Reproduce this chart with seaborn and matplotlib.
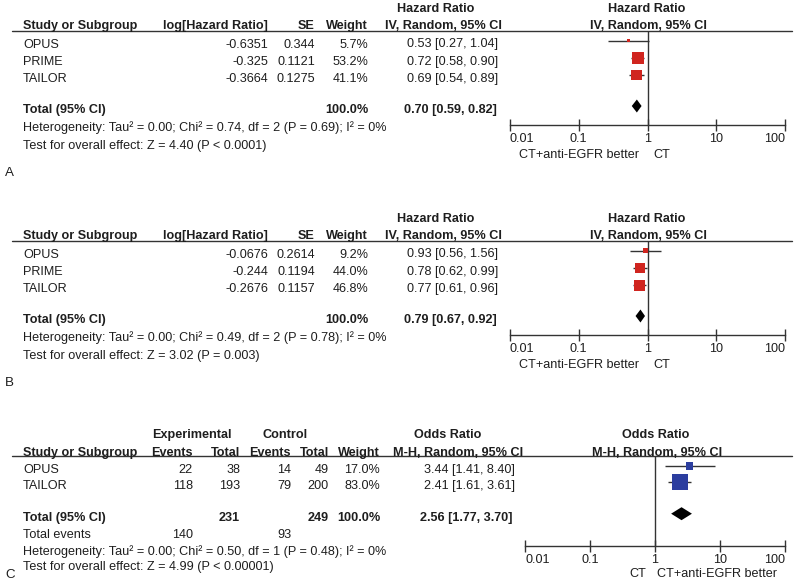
import numpy as np
import pandas as pd
import matplotlib.pyplot as plt
import matplotlib.ticker as mticker
import seaborn as sns

sns.set_theme(style="white")
plt.rcParams['font.family'] = ['Liberation Sans', 'DejaVu Sans']

# ---- data ----
# panel A: overall survival (hazard ratio)
a_studies = ["OPUS", "PRIME", "TAILOR"]
a_loghr = [-0.6351, -0.325, -0.3664]
a_se = [0.344, 0.1121, 0.1275]
a_weight = [5.7, 53.2, 41.1]
a_hr = [0.53, 0.72, 0.69]
a_lo = [0.27, 0.58, 0.54]
a_hi = [1.04, 0.90, 0.89]
a_total = [0.70, 0.59, 0.82]
a_het = "Heterogeneity: Tau² = 0.00; Chi² = 0.74, df = 2 (P = 0.69); I² = 0%"
a_test = "Test for overall effect: Z = 4.40 (P < 0.0001)"

# panel B: progression-free survival (hazard ratio)
b_studies = ["OPUS", "PRIME", "TAILOR"]
b_loghr = [-0.0676, -0.244, -0.2676]
b_se = [0.2614, 0.1194, 0.1157]
b_weight = [9.2, 44.0, 46.8]
b_hr = [0.93, 0.78, 0.77]
b_lo = [0.56, 0.62, 0.61]
b_hi = [1.56, 0.99, 0.96]
b_total = [0.79, 0.67, 0.92]
b_het = "Heterogeneity: Tau² = 0.00; Chi² = 0.49, df = 2 (P = 0.78); I² = 0%"
b_test = "Test for overall effect: Z = 3.02 (P = 0.003)"

# panel C: response rate (odds ratio)
c_studies = ["OPUS", "TAILOR"]
c_exp_events = [22, 118]
c_exp_total = [38, 193]
c_ctl_events = [14, 79]
c_ctl_total = [49, 200]
c_weight = [17.0, 83.0]
c_or = [3.44, 2.41]
c_lo = [1.41, 1.61]
c_hi = [8.40, 3.61]
c_total = [2.56, 1.77, 3.70]
c_sum = [140, 231, 93, 249]
c_het = "Heterogeneity: Tau² = 0.00; Chi² = 0.50, df = 1 (P = 0.48); I² = 0%"
c_test = "Test for overall effect: Z = 4.99 (P < 0.00001)"

ticks = [0.01, 0.1, 1, 10, 100]
tick_labels = ["0.01", "0.1", "1", "10", "100"]

# ---- figure ----
W, H = 800, 581
TXT = '#1e1e1e'
LINE = '#333333'
FS = 9.1

fig = plt.figure(figsize=(W / 100, H / 100), dpi=100)
bg = fig.add_axes([0, 0, 1, 1])
bg.set_xlim(0, W)
bg.set_ylim(H, 0)
bg.axis('off')


def put(x, y, s, ha='left', bold=False, size=FS):
    bg.text(x, y + 1, s, ha=ha, va='center', fontsize=size, color=TXT,
            fontweight='bold' if bold else 'normal')


def ci_text(e, l, h):
    return f"{e:.2f} [{l:.2f}, {h:.2f}]"


def forest(x0, x1, top, axis_y, row0, pitch, total_y, est, lo, hi, wts, tot,
           color, scale):
    ax = fig.add_axes([x0 / W, 1 - axis_y / H, (x1 - x0) / W, (axis_y - top) / H])
    ax.patch.set_alpha(0)
    n = len(est)
    off = 3  # markers sit slightly above the text rows
    ax.set_ylim((axis_y - row0 + off) / pitch, (top - row0 + off) / pitch)
    ax.set_xscale('log')
    ax.set_xlim(0.01, 100)

    df = pd.DataFrame({'row': np.arange(n), 'est': est, 'lo': lo, 'hi': hi, 'w': wts})
    ax.hlines(df['row'], df['lo'], df['hi'], color=LINE, lw=1.0, zorder=2)
    side = scale * np.sqrt(df['w']) * 0.72
    sns.scatterplot(data=df, x='est', y='row', marker='s', s=side ** 2,
                    color=color, edgecolor=color, linewidth=0, legend=False,
                    ax=ax, zorder=3)

    # pooled estimate diamond
    t = (total_y - row0) / pitch
    h = 6.5 / pitch
    ax.fill([tot[1], tot[0], tot[2], tot[0]], [t, t - h, t, t + h],
            color='black', lw=0, zorder=3)
    ax.axvline(1, color=LINE, lw=1.0)

    for s in ['top', 'right', 'left']:
        ax.spines[s].set_visible(False)
    ax.spines['bottom'].set_color(LINE)
    ax.spines['bottom'].set_linewidth(1.0)
    ax.set_xticks(ticks)
    ax.set_xticklabels(tick_labels)
    ax.xaxis.set_minor_locator(mticker.NullLocator())
    ax.set_yticks([])
    ax.set_xlabel('')
    ax.set_ylabel('')
    ax.tick_params(axis='x', bottom=True, direction='inout', length=8, width=1.0,
                   color=LINE, labelsize=FS, labelcolor=TXT, pad=2)
    labs = ax.get_xticklabels()
    labs[0].set_ha('left')
    labs[-1].set_ha('right')
    return ax


def hr_panel(dy, letter, studies, loghr, se, wts, hr, lo, hi, tot, het, test):
    line_y = 31 + dy
    row0, pitch = 43.5 + dy, 17.4
    total_y = 109 + dy
    # headers
    put(436, 8.5 + dy, "Hazard Ratio", ha='center', bold=True)
    put(647, 8.5 + dy, "Hazard Ratio", ha='center', bold=True)
    put(23, 25 + dy, "Study or Subgroup", bold=True)
    put(268, 25 + dy, "log[Hazard Ratio]", ha='right', bold=True)
    put(315, 25 + dy, "SE", ha='right', bold=True)
    put(368, 25 + dy, "Weight", ha='right', bold=True)
    put(443, 25 + dy, "IV, Random, 95% CI", ha='center', bold=True)
    put(648, 25 + dy, "IV, Random, 95% CI", ha='center', bold=True)
    bg.plot([12, 792], [line_y, line_y], color=LINE, lw=1.0)
    # study rows
    for i, name in enumerate(studies):
        y = row0 + i * pitch
        put(23, y, name)
        put(268, y, str(loghr[i]), ha='right')
        put(315, y, str(se[i]), ha='right')
        put(368, y, f"{wts[i]:.1f}%", ha='right')
        put(498, y, ci_text(hr[i], lo[i], hi[i]), ha='right')
    put(23, total_y, "Total (95% CI)", bold=True)
    put(368, total_y, f"{sum(wts):.1f}%", ha='right', bold=True)
    put(497, total_y, ci_text(*tot), ha='right', bold=True)
    put(23, 127 + dy, het)
    put(23, 145 + dy, test)
    put(5, 172 + dy, letter, size=FS + 0.5)
    forest(510, 785, line_y, 124.5 + dy, row0, pitch, total_y,
           hr, lo, hi, wts, tot, '#d0251f', 1.6)
    put(639, 154 + dy, "CT+anti-EGFR better", ha='right')
    put(653, 154 + dy, "CT")


hr_panel(0, "A", a_studies, a_loghr, a_se, a_weight, a_hr, a_lo, a_hi,
         a_total, a_het, a_test)
hr_panel(210, "B", b_studies, b_loghr, b_se, b_weight, b_hr, b_lo, b_hi,
         b_total, b_het, b_test)

# ---- panel C ----
line_y = 455.5
row0, pitch = 469, 16.2
total_y = 516.7
put(192, 434, "Experimental", ha='center', bold=True)
put(285, 434, "Control", ha='center', bold=True)
put(448, 434, "Odds Ratio", ha='center', bold=True)
put(656, 434, "Odds Ratio", ha='center', bold=True)
put(23, 452, "Study or Subgroup", bold=True)
put(193, 452, "Events", ha='right', bold=True)
put(240, 452, "Total", ha='right', bold=True)
put(291, 452, "Events", ha='right', bold=True)
put(329, 452, "Total", ha='right', bold=True)
put(380, 452, "Weight", ha='right', bold=True)
put(458, 452, "M-H, Random, 95% CI", ha='center', bold=True)
put(657, 452, "M-H, Random, 95% CI", ha='center', bold=True)
bg.plot([12, 792], [line_y, line_y], color=LINE, lw=1.0)
for i, name in enumerate(c_studies):
    y = row0 + i * pitch
    put(23, y, name)
    put(193, y, str(c_exp_events[i]), ha='right')
    put(240, y, str(c_exp_total[i]), ha='right')
    put(291, y, str(c_ctl_events[i]), ha='right')
    put(329, y, str(c_ctl_total[i]), ha='right')
    put(380, y, f"{c_weight[i]:.1f}%", ha='right')
    put(515, y, ci_text(c_or[i], c_lo[i], c_hi[i]), ha='right')
put(23, total_y, "Total (95% CI)", bold=True)
put(240, total_y, str(c_sum[1]), ha='right', bold=True)
put(329, total_y, str(c_sum[3]), ha='right', bold=True)
put(380, total_y, f"{sum(c_weight):.1f}%", ha='right', bold=True)
put(513, total_y, ci_text(*c_total), ha='right', bold=True)
put(23, 534, "Total events")
put(193, 534, str(c_sum[0]), ha='right')
put(291, 534, str(c_sum[2]), ha='right')
put(23, 550.7, c_het)
put(23, 565.7, c_test)
put(5, 574, "C", size=FS + 0.5)
forest(525, 785, line_y, 546, row0, pitch, total_y,
       c_or, c_lo, c_hi, c_weight, c_total, '#2c3e9f', 1.75)
put(646, 573.3, "CT", ha='right')
put(657, 573.3, "CT+anti-EGFR better")

fig.savefig("out.png", dpi=100)
